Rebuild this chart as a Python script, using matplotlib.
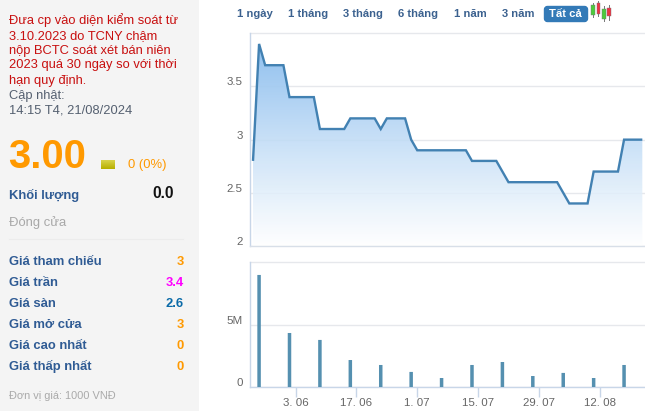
import numpy as np
import matplotlib
matplotlib.use("Agg")
import matplotlib.pyplot as plt
from matplotlib.colors import LinearSegmentedColormap
from matplotlib.patches import Rectangle, FancyBboxPatch
from matplotlib.transforms import ScaledTranslation

plt.rcParams['font.family'] = ['Liberation Sans', 'DejaVu Sans']

# ---- data ----
price = [2.8, 3.9, 3.7, 3.7, 3.7, 3.7, 3.4, 3.4, 3.4, 3.4, 3.4, 3.1, 3.1, 3.1, 3.1, 3.1,
         3.2, 3.2, 3.2, 3.2, 3.2, 3.1, 3.2, 3.2, 3.2, 3.2, 3.0, 2.9, 2.9, 2.9, 2.9, 2.9,
         2.9, 2.9, 2.9, 2.9, 2.8, 2.8, 2.8, 2.8, 2.8, 2.7, 2.6, 2.6, 2.6, 2.6, 2.6, 2.6,
         2.6, 2.6, 2.6, 2.5, 2.4, 2.4, 2.4, 2.4, 2.7, 2.7, 2.7, 2.7, 2.7, 3.0, 3.0, 3.0, 3.0]
volume_index = [1, 6, 11, 16, 21, 26, 31, 36, 41, 46, 51, 56, 61]
volume = [9.06, 4.38, 3.82, 2.2, 1.8, 1.24, 0.75, 1.8, 2.04, 0.91, 1.16, 0.75, 1.8]
price_ticks = [2, 2.5, 3, 3.5]
price_tick_labels = ['2', '2.5', '3', '3.5']
volume_ticks = [0, 5]
volume_tick_labels = ['0', '5M']
date_ticks = [7, 17, 27, 37, 47, 57]
date_labels = ['3. 06', '17. 06', '1. 07', '15. 07', '29. 07', '12. 08']
ranges = ['1 ngày', '1 tháng', '3 tháng', '6 tháng', '1 năm', '3 năm']
range_x = [236.7, 287.7, 343.3, 398.3, 454, 502]
notice = ['Đưa cp vào diện kiểm soát từ', '3.10.2023 do TCNY chậm', 'nộp BCTC soát xét bán niên',
          '2023 quá 30 ngày so với thời', 'hạn quy định.']
notice_y = [24.4, 39.1, 53.7, 68.4, 83.7]
row_labels = ['Giá tham chiếu', 'Giá trần', 'Giá sàn', 'Giá mở cửa', 'Giá cao nhất', 'Giá thấp nhất']
row_values = ['3', '3.4', '2.6', '3', '0', '0']
row_colors = ['#ff9900', '#ff00ff', '#0a6aa8', '#ff9900', '#ff9900', '#ff9900']
row_y = [265, 286, 307, 328, 349, 370]

W, H = 645, 411
fig = plt.figure(figsize=(W / 100, H / 100), dpi=100, facecolor='white')


def px(pt):
    return pt * 0.72


# page layer in pixel coordinates
page = fig.add_axes([0, 0, 1, 1], zorder=0)
page.set_xlim(0, W)
page.set_ylim(H, 0)
page.axis('off')
page.add_patch(Rectangle((0, 0), 199, H, fc='#f4f4f4', ec='none'))

RED = '#c80f0f'
for s, y in zip(notice, notice_y):
    page.text(9, y, s, color=RED, fontsize=px(12.9), va='baseline')
page.text(9, 99.1, 'Cập nhật:', color='#556070', fontsize=px(12.9), va='baseline')
page.text(9, 113.7, '14:15 T4, 21/08/2024', color='#556070', fontsize=px(12.9), va='baseline')
page.text(8.5, 167.7, '3.00', color='#ff9900', fontsize=px(40), fontweight='bold', va='baseline')
grad = LinearSegmentedColormap.from_list('g', ['#d8d24a', '#b8b000'])
page.imshow(np.linspace(0, 1, 16).reshape(-1, 1), cmap=grad, extent=(101, 115, 169, 160), aspect='auto', zorder=2)
page.set_xlim(0, W)
page.set_ylim(H, 0)
page.text(127.5, 168.3, '0 (0%)', color='#ff9900', fontsize=px(13), va='baseline')
page.text(9, 199.3, 'Khối lượng', color='#2f5b94', fontsize=px(13), fontweight='bold', va='baseline')
page.text(174, 197.7, '0.0', color='#111111', fontsize=px(15.5), fontweight='bold', va='baseline', ha='right')
page.text(9, 226.3, 'Đóng cửa', color='#a8a8a8', fontsize=px(13), va='baseline')
page.plot([9, 183], [239.3, 239.3], color='#ececec', lw=0.8)
for s, v, c, y in zip(row_labels, row_values, row_colors, row_y):
    page.text(9, y, s, color='#2f5b94', fontsize=px(13), fontweight='bold', va='baseline')
    page.text(183.5, y, v, color=c, fontsize=px(13), fontweight='bold', va='baseline', ha='right')
page.text(8.7, 399, 'Đơn vị giá: 1000 VNĐ', color='#aaaaaa', fontsize=px(11), va='baseline')

for s, x in zip(ranges, range_x):
    page.text(x, 17.3, s, color='#3b618f', fontsize=px(11.3), fontweight='bold', va='baseline')
page.add_patch(FancyBboxPatch((544.5, 6.5), 43, 15, boxstyle='round,pad=0,rounding_size=3',
                              fc='#337ab7', ec='#337ab7', lw=1))
page.text(565.7, 17, 'Tất cả', color='white', fontsize=px(11.3), fontweight='bold', va='baseline', ha='center')
# candlestick icon
for x, w0, w1, b0, b1, c in [(593, 2.7, 17.3, 4.7, 15.3, '#4ccb3c'), (598.4, 1, 16, 3.3, 14, '#ee3344'),
                             (603.7, 6, 20.7, 9.3, 19.3, '#4ccb3c'), (609, 4.7, 20, 8, 16, '#ee3344')]:
    page.plot([x, x], [w0, w1], color='#777777', lw=0.7, zorder=3)
    page.add_patch(Rectangle((x - 1.8, b0), 3.6, b1 - b0, fc=c, ec='#777777', lw=0.3, zorder=4))

# chart panels
X0, X1 = 249.7, 645
DX = 6.083
xlim = ((X0 - 253) / DX, (X1 - 253) / DX)


def panel(top, bottom):
    a = fig.add_axes([X0 / W, 1 - bottom / H, (X1 - X0) / W, (bottom - top) / H], zorder=1)
    a.patch.set_alpha(0)
    a.set_xlim(*xlim)
    for sp in ('top', 'right'):
        a.spines[sp].set_visible(False)
    a.spines['left'].set_color('#c8d6e8')
    a.spines['left'].set_linewidth(1)
    a.spines['bottom'].set_linewidth(1)
    return a


def style_ylabels(a, shift_px=5):
    off = ScaledTranslation(0, shift_px / 100, fig.dpi_scale_trans)
    for lab in a.get_yticklabels():
        lab.set_transform(lab.get_transform() + off)
        lab.set_color('#666666')
        lab.set_fontsize(px(11.5))


GRID = '#e6e8ec'
# price
ax = panel(33.3, 246)
ax.set_ylim(2, 4)
ax.spines['bottom'].set_color('#d8dfe8')
ax.set_yticks(price_ticks, price_tick_labels)
ax.tick_params(axis='y', length=0, pad=5)
ax.set_xticks([])
ax.grid(axis='y', color=GRID, lw=1, zorder=0)
ax.set_axisbelow(True)
ax.axhline(4, color=GRID, lw=1, clip_on=False, zorder=0)
style_ylabels(ax)
idx = np.arange(len(price))
poly = ax.fill_between(idx, price, 2, color='none', lw=0)
rgba = np.zeros((256, 1, 4))
t = np.linspace(0, 1, 256)
rgba[..., 0] = (0.52 + 0.48 * t)[:, None]
rgba[..., 1] = (0.73 + 0.27 * t)[:, None]
rgba[..., 2] = (0.93 + 0.07 * t)[:, None]
rgba[..., 3] = (0.95 - 0.15 * t)[:, None]
im = ax.imshow(rgba, extent=(idx[0], idx[-1], 2, 3.95), aspect='auto', zorder=1, interpolation='bilinear')
im.set_clip_path(poly.get_paths()[0], transform=ax.transData)
ax.set_xlim(*xlim)
ax.set_ylim(2, 4)
ax.plot(idx, price, color='#4281b2', lw=1.7, zorder=3, solid_joinstyle='miter', solid_capstyle='butt')

# volume
av = panel(262.3, 387.3)
av.set_ylim(0, 10.08)
av.spines['bottom'].set_color('#c8d6e8')
av.set_yticks(volume_ticks, volume_tick_labels)
av.tick_params(axis='y', length=0, pad=5)
av.grid(axis='y', color=GRID, lw=1, zorder=0)
av.set_axisbelow(True)
av.axhline(10.08, color=GRID, lw=1, clip_on=False, zorder=0)
style_ylabels(av)
av.bar(volume_index, volume, width=3.5 / DX, color='#5590b0', zorder=3, snap=False)
av.set_xticks(date_ticks, date_labels)
av.tick_params(axis='x', length=7, width=1, color='#c8d6e8', labelcolor='#666666',
               labelsize=px(11.5), pad=1)
av.set_xlim(*xlim)

fig.savefig('out.png', dpi=100)
